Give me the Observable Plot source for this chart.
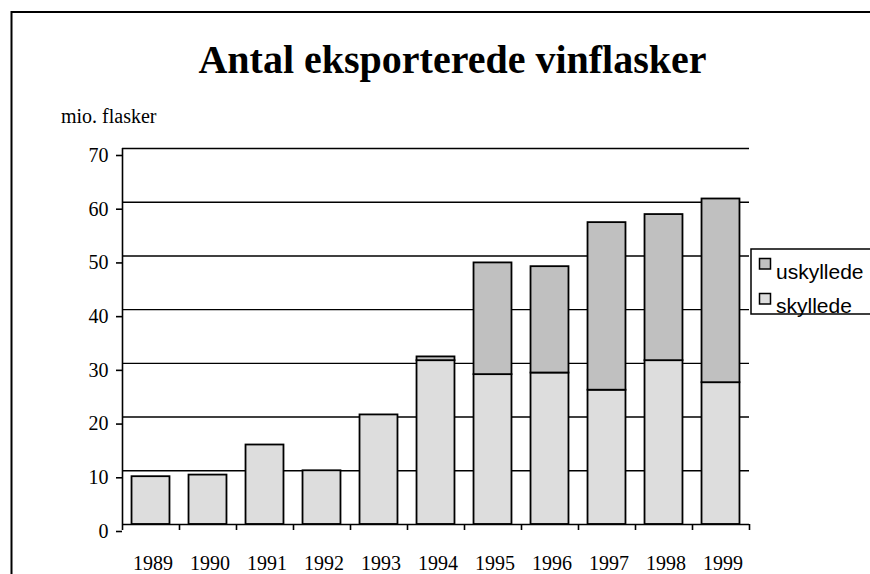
<!DOCTYPE html>
<html>
<head>
<meta charset="utf-8">
<script src="https://cdn.jsdelivr.net/npm/d3@7"></script>
<script src="https://cdn.jsdelivr.net/npm/@observablehq/plot@0.6"></script>
<style>
  html, body { margin: 0; padding: 0; background: #fff; overflow: hidden; }
  #chart { width: 870px; height: 574px; overflow: hidden; position: relative; }
  #chart svg { max-width: none; }
</style>
</head>
<body>
<div id="chart"></div>
<script>
const title = "Antal eksporterede vinflasker";
const yLabel = "mio. flasker";
const years = [1989, 1990, 1991, 1992, 1993, 1994, 1995, 1996, 1997, 1998, 1999];
const skyllede = [8.9, 9.2, 14.8, 10.0, 20.4, 30.5, 27.9, 28.2, 25.0, 30.5, 26.4];
const uskyllede = [0, 0, 0, 0, 0, 0.7, 20.8, 19.8, 31.2, 27.2, 34.2];
const seriesNames = ["uskyllede", "skyllede"];
const seriesColors = ["#c0c0c0", "#dddddd"];
const yTicks = [0, 10, 20, 30, 40, 50, 60, 70];

const serif = "'Liberation Serif', 'Times New Roman', serif";
const sans = "'Liberation Sans', Arial, sans-serif";
const half = 0.333;

// stacked rows built from the series arrays
const rows = [];
years.forEach((yr, i) => {
  rows.push({year: yr, series: "skyllede", y1: 0, y2: skyllede[i]});
  if (uskyllede[i] > 0) rows.push({year: yr, series: "uskyllede", y1: skyllede[i], y2: skyllede[i] + uskyllede[i]});
});
const xMin = years[0] - 0.5, xMax = years[years.length - 1] + 0.5;
const boundaries = d3.range(xMin, xMax + 0.01, 1);

const plot = Plot.plot({
  width: 870,
  height: 574,
  marginLeft: 122,
  marginRight: 121,
  marginTop: 148,
  marginBottom: 50,
  style: {fontFamily: serif, fontSize: "20px", color: "#000", background: "#fff"},
  x: {type: "linear", domain: [xMin, xMax]},
  y: {domain: [0, 70]},
  color: {domain: seriesNames, range: seriesColors},
  marks: [
    Plot.ruleY(yTicks.filter(d => d > 0), {stroke: "#000", strokeWidth: 1.4}),
    Plot.rectY(rows, {
      x1: d => d.year - half, x2: d => d.year + half,
      y1: "y1", y2: "y2",
      fill: "series", stroke: "#000", strokeWidth: 1.8
    }),
    Plot.ruleY([0], {stroke: "#000", strokeWidth: 1.6}),
    Plot.ruleX([xMin], {y1: 0, y2: 70, stroke: "#000", strokeWidth: 1.6}),
    Plot.axisY({ticks: yTicks, tickSize: 6, tickPadding: 8, dy: 7, label: null, fontSize: 20, fontFamily: serif, strokeWidth: 1.6}),
    Plot.axisX({ticks: boundaries, tickSize: 6, tickFormat: () => "", label: null, strokeWidth: 1.6}),
    Plot.axisX({ticks: years, tickSize: 0, tickPadding: 31, dx: 2, tickFormat: d => String(d), label: null, fontSize: 20, fontFamily: serif})
  ]
});

const svg = d3.select(plot);
// outer border (left and top edges only; the rest lies outside the picture)
svg.append("path").attr("d", "M11.5,600V12H900")
  .attr("fill", "none").attr("stroke", "#000").attr("stroke-width", 2);
// title
svg.append("text").attr("x", 452.5).attr("y", 73).attr("text-anchor", "middle")
  .attr("font-family", serif).attr("font-weight", "bold").attr("font-size", 40).attr("fill", "#000")
  .text(title);
// y label
svg.append("text").attr("x", 61).attr("y", 122.5).attr("text-anchor", "start")
  .attr("font-family", serif).attr("font-size", 20).attr("fill", "#000")
  .text(yLabel);
// legend
const lg = svg.append("g").attr("text-anchor", "start");
lg.append("path").attr("d", "M900,249H751V314H900")
  .attr("fill", "#fff").attr("stroke", "#000").attr("stroke-width", 1.5);
seriesNames.forEach((name, i) => {
  lg.append("rect").attr("x", 759.5).attr("y", 258.5 + i * 35).attr("width", 11).attr("height", 10.5)
    .attr("fill", seriesColors[i]).attr("stroke", "#000").attr("stroke-width", 1.5);
  lg.append("text").attr("x", 776).attr("y", 278.5 + i * 34).attr("text-anchor", "start")
    .attr("font-family", sans).attr("font-size", 21).attr("fill", "#000").text(name);
});

document.getElementById("chart").appendChild(plot);
</script>
</body>
</html>
